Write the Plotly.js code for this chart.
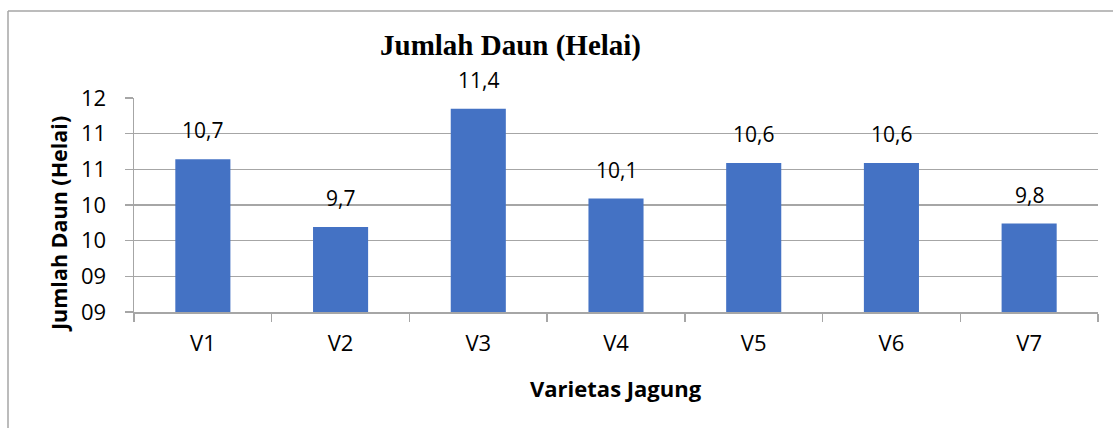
<!DOCTYPE html>
<html>
<head>
<meta charset="utf-8">
<script src="https://cdn.plot.ly/plotly-3.0.1.min.js"></script>
<style>
html,body{margin:0;padding:0;background:#fff;}
#chart{width:1113px;height:428px;}
</style>
</head>
<body>
<div id="chart"></div>
<script>
// Data
const categories = ["V1", "V2", "V3", "V4", "V5", "V6", "V7"];
const values = [10.69, 9.74, 11.40, 10.14, 10.64, 10.64, 9.79];
const tickValues = [8.55, 9.05, 9.55, 10.05, 10.55, 11.05, 11.55];
const tickLabels = ["09", "09", "10", "10", "11", "11", "12"];
const chartTitle = "Jumlah Daun (Helai)";
const xTitle = "Varietas Jagung";
const yTitle = "Jumlah Daun (Helai)";

const labelTexts = values.map(v => v.toFixed(1).replace(".", ","));

// Layout geometry (pixels)
const W = 1113, H = 428;
const M = {l: 134, r: 15, t: 98, b: 116};
const pw = W - M.l - M.r, ph = H - M.t - M.b;
const px = x => (x - M.l) / pw;
const py = y => (H - M.b - y) / ph;

const sans = "'Open Sans', 'Noto Sans', sans-serif";
const gridColor = "#a6a6a6";

const trace = {
  type: "bar",
  x: categories,
  y: values,
  marker: {color: "#4472C4", line: {width: 0}},
  hoverinfo: "none"
};

const annotations = categories.map((c, i) => ({
  x: c, y: values[i], xref: "x", yref: "y",
  text: labelTexts[i], showarrow: false,
  yanchor: "bottom", yshift: 13,
  font: {family: sans, size: 21, color: "#000"}
}));

annotations.push({
  xref: "paper", yref: "paper", x: px(510), y: py(46),
  xanchor: "center", yanchor: "middle",
  text: "<b>" + chartTitle + "</b>", showarrow: false,
  font: {family: "'Liberation Serif', 'Times New Roman', serif", size: 29, color: "#000"}
});
annotations.push({
  xref: "paper", yref: "paper", x: px(616), y: py(388),
  xanchor: "center", yanchor: "middle",
  text: "<b>" + xTitle + "</b>", showarrow: false,
  font: {family: sans, size: 22, color: "#000"}
});
annotations.push({
  xref: "paper", yref: "paper", x: px(58), y: py(224),
  xanchor: "center", yanchor: "middle", textangle: -90,
  text: "<b>" + yTitle + "</b>", showarrow: false,
  font: {family: sans, size: 21.5, color: "#000"}
});

const layout = {
  width: W, height: H,
  margin: M,
  paper_bgcolor: "#fff", plot_bgcolor: "#fff",
  showlegend: false,
  bargap: 0.6,
  xaxis: {
    type: "category",
    showgrid: false,
    showline: true, linecolor: gridColor, linewidth: 1.5,
    ticks: "outside", tickson: "boundaries", ticklen: 8, tickcolor: gridColor, tickwidth: 1.5,
    ticklabelstandoff: 11,
    tickfont: {family: sans, size: 22, color: "#000"},
    fixedrange: true
  },
  yaxis: {
    range: [8.55, 11.55],
    tickmode: "array", tickvals: tickValues, ticktext: tickLabels,
    showgrid: true, gridcolor: gridColor, gridwidth: 1.5,
    showline: true, linecolor: gridColor, linewidth: 1.5,
    zeroline: false,
    ticks: "outside", ticklen: 8, tickcolor: gridColor, tickwidth: 1.5,
    ticklabelstandoff: 14,
    tickfont: {family: sans, size: 22, color: "#000"},
    fixedrange: true
  },
  annotations: annotations,
  shapes: [
    {type: "line", xref: "paper", yref: "paper", x0: px(8), x1: px(1113), y0: py(11), y1: py(11),
     line: {color: gridColor, width: 1.5}},
    {type: "line", xref: "paper", yref: "paper", x0: px(8), x1: px(8), y0: py(11), y1: py(428),
     line: {color: gridColor, width: 1.5}}
  ]
};

Plotly.newPlot("chart", [trace], layout, {displayModeBar: false, staticPlot: true});
</script>
</body>
</html>
